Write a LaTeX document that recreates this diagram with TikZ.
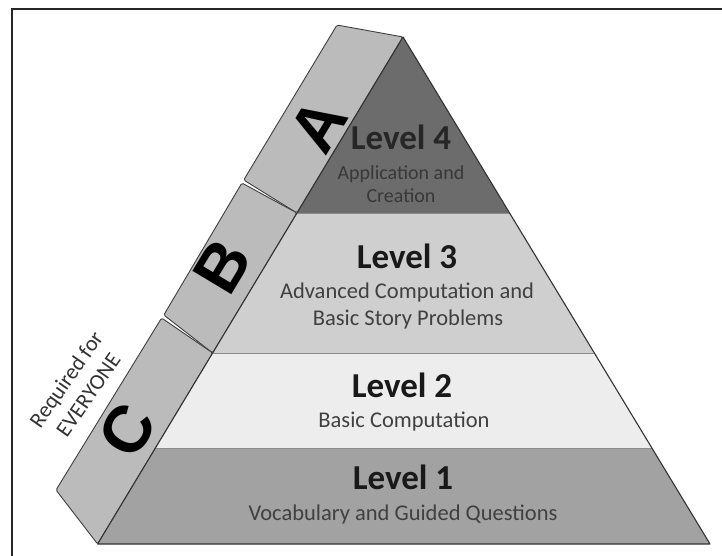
\documentclass[tikz,border=0pt]{standalone}
\usepackage{fontspec}
\setmainfont{Carlito}
\newfontfamily\tabfont{Liberation Sans}
\definecolor{lvfour}{HTML}{6C6C6C}
\definecolor{lvthree}{HTML}{CFCFCF}
\definecolor{lvtwo}{HTML}{EDEDED}
\definecolor{lvone}{HTML}{A2A2A2}
\definecolor{tabgray}{HTML}{BBBBBB}
\begin{document}
\begin{tikzpicture}[x=1pt,y=-1pt,
  frame/.style={draw=black!85, line width=2pt},
  edge/.style={draw=black!80, line width=1.1pt, line join=round},
  divider/.style={draw=black!45, line width=1pt},
  tab/.style={fill=tabgray, draw=black!75, line width=0.9pt, rounded corners=1.5pt},
  title/.style={font=\bfseries\fontsize{35}{40}\selectfont, text=black!90, inner sep=0pt, anchor=base},
  sub/.style={font=\fontsize{22.5}{26}\selectfont, text=black!75, inner sep=0pt, anchor=base},
  topsub/.style={font=\fontsize{20}{24}\selectfont, text=black!78, inner sep=0pt, anchor=base},
  letter/.style={font=\tabfont\bfseries\fontsize{66}{66}\selectfont, rotate=59, inner sep=0pt},
  note/.style={font=\fontsize{22}{27}\selectfont, text=black!80, rotate=55, inner sep=0pt, align=center},
]
\useasboundingbox (0,0) rectangle (722,556);
\fill[white] (0,0) rectangle (722,556);

% outer frame (only its top and left sides fall on the page)
\draw[frame] (12,556) -- (12,9) -- (722,9);

% corners of the front face and of the level bands
\coordinate (apex) at (403,37);
\coordinate (bl) at (97.6,544);
\coordinate (br) at (710,544);
\coordinate (l43) at (297,213);   \coordinate (r43) at (509.6,213);
\coordinate (l32) at (212.7,353); \coordinate (r32) at (594.3,353);
\coordinate (l21) at (155.4,448); \coordinate (r21) at (651.9,448);

% side strip: three tabs
\draw[tab] (337,25) -- (apex) -- (l43) -- (243.7,180) -- cycle;
\draw[tab] (241.9,183) -- (l43) -- (l32) -- (163.8,315) -- cycle;
\draw[tab] (161.6,318) -- (l32) -- (bl) -- (56,490) -- cycle;

% level bands
\fill[lvfour]  (apex) -- (r43) -- (l43) -- cycle;
\fill[lvthree] (l43) -- (r43) -- (r32) -- (l32) -- cycle;
\fill[lvtwo]   (l32) -- (r32) -- (r21) -- (l21) -- cycle;
\fill[lvone]   (l21) -- (r21) -- (br) -- (bl) -- cycle;
\draw[divider] (l43) -- (r43);
\draw[divider] (l32) -- (r32);
\draw[divider] (l21) -- (r21);
\draw[edge] (apex) -- (br) -- (bl) -- cycle;

% tab letters
\node[letter] (tabA) at (318,125) {A};
\node[letter] (tabB) at (222,266) {B};
\node[letter] (tabC) at (127,430) {C};

% note beside tab C
\node[note] (req) at (77,387) {Required for\\EVERYONE};

% level texts
\node[title, text=black!85] (t4) at (401,150) {Level 4};
\node[topsub] (s4a) at (401,179) {Application and};
\node[topsub] (s4b) at (401,202) {Creation};

\node[title] (t3) at (407,268) {Level 3};
\node[sub] (s3a) at (407,298) {Advanced Computation and};
\node[sub] (s3b) at (408,325) {Basic Story Problems};

\node[title] (t2) at (402,397) {Level 2};
\node[sub] (s2) at (404,427) {Basic Computation};

\node[title] (t1) at (403,489) {Level 1};
\node[sub] (s1) at (403,520) {Vocabulary and Guided Questions};
\end{tikzpicture}
\end{document}
